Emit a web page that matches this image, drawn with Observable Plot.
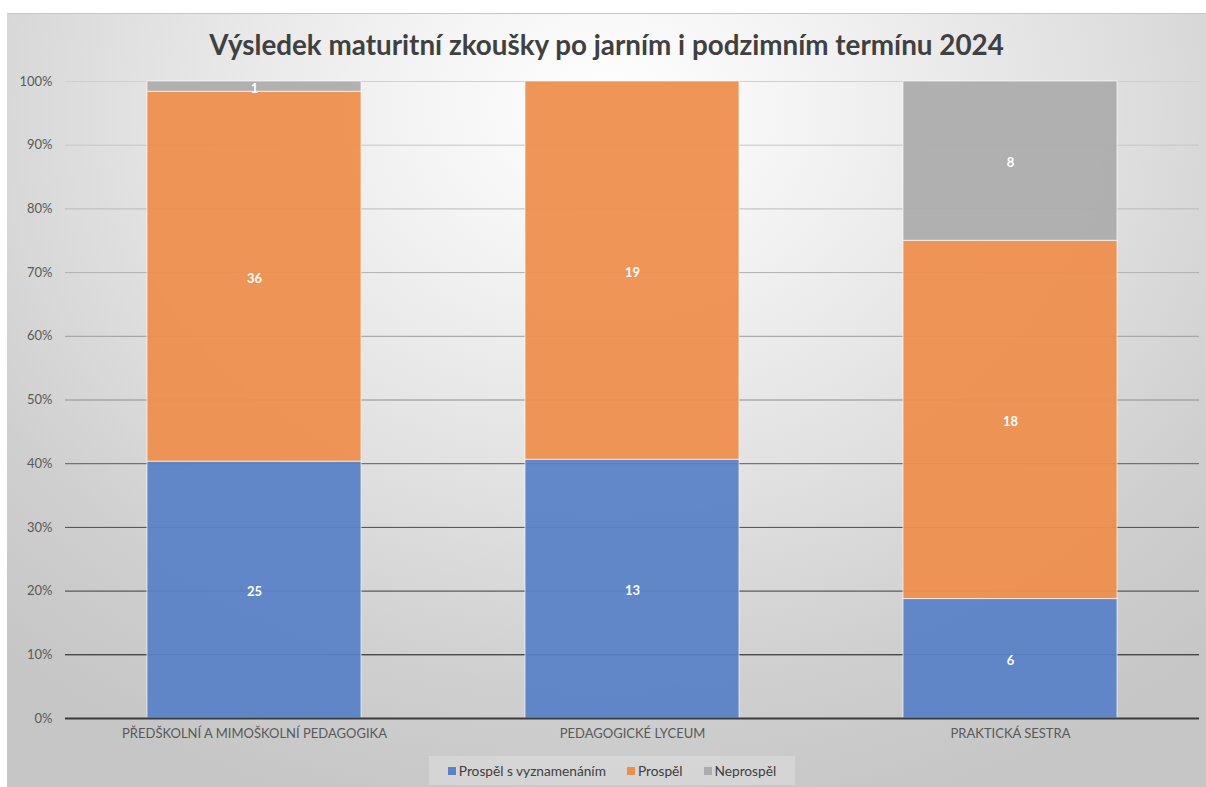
<!DOCTYPE html>
<html>
<head>
<meta charset="utf-8">
<script src="https://cdn.jsdelivr.net/npm/d3@7"></script>
<script src="https://cdn.jsdelivr.net/npm/@observablehq/plot@0.6"></script>
<style>
  html, body { margin: 0; padding: 0; background: #fff; width: 1206px; height: 787px; overflow: hidden; }
  #frame {
    position: absolute; left: 7px; top: 13px; width: 1199px; height: 774px;
    border-top: 1px solid #c6c6c6; box-sizing: border-box;
    background: radial-gradient(ellipse 75% 95% at 50% 12%, #ffffff 0%, #f2f2f2 25%, #e0e0e0 55%, #cfcfcf 80%, #c6c6c6 100%);
    font-family: Lato, "Open Sans", sans-serif;
  }
  #title {
    position: absolute; left: 0; width: 100%; top: 14px; text-align: center;
    font-size: 27.8px; font-weight: 700; color: #404040; line-height: 34px;
  }
  #chart { position: absolute; left: 0; top: 49px; }
  #legend {
    position: absolute; left: 422px; top: 742px; width: 366px; height: 29px;
    background: rgba(255,255,255,0.22);
    display: flex; align-items: center; justify-content: center; gap: 21px;
    font-size: 13.7px; color: #404040;
  }
  #legend .item { display: flex; align-items: center; gap: 3px; }
  #legend .sw { width: 8px; height: 8px; display: inline-block; }
</style>
</head>
<body>
<div id="frame">
  <div id="title"></div>
  <div id="chart"></div>
  <div id="legend"></div>
</div>
<script>
const titleText = "Výsledek maturitní zkoušky po jarním i podzimním termínu 2024";
const categories = ["PŘEDŠKOLNÍ A MIMOŠKOLNÍ PEDAGOGIKA", "PEDAGOGICKÉ LYCEUM", "PRAKTICKÁ SESTRA"];
const seriesNames = ["Prospěl s vyznamenáním", "Prospěl", "Neprospěl"];
const prospelSVyznamenanim = [25, 13, 6];
const prospel = [36, 19, 18];
const neprospel = [1, 0, 8];
const yTicks = [0, 0.1, 0.2, 0.3, 0.4, 0.5, 0.6, 0.7, 0.8, 0.9, 1];

// styles
const seriesColors = ["#5a82c8", "#ed8e4d", "#acacac"];
const gridColors = ["#3a3a3a", "#151515", "#3c3c3c", "#4c4c4c", "#5c5c5c", "#8e8e8e", "#9c9c9c", "#b0b0b0", "#bababa", "#c6c6c6", "#d0d0d0"];

const seriesValues = [prospelSVyznamenanim, prospel, neprospel];
const data = [];
seriesNames.forEach((s, si) => {
  categories.forEach((c, ci) => {
    data.push({category: c, series: s, value: seriesValues[si][ci]});
  });
});

document.getElementById("title").textContent = titleText;

const gridMarks = yTicks.slice(1).map((t, i) =>
  Plot.ruleY([t], {stroke: gridColors[i + 1], strokeWidth: 1})
);

const chart = Plot.plot({
  width: 1199,
  height: 689,
  marginTop: 18,
  marginBottom: 34,
  marginLeft: 58,
  marginRight: 7,
  style: {background: "transparent", fontFamily: "Lato, 'Open Sans', sans-serif", fontSize: "13px", color: "#595959", overflow: "visible"},
  x: {domain: categories, paddingInner: 0.434, paddingOuter: 0.217, label: null, tickSize: 0, tickPadding: 10},
  y: {domain: [0, 1], ticks: yTicks, tickFormat: d3.format(".0%"), label: null, tickSize: 0, tickPadding: 13},
  color: {domain: seriesNames, range: seriesColors},
  marks: [
    ...gridMarks,
    Plot.barY(data, Plot.stackY({
      x: "category", y: "value", fill: "series", offset: "normalize", order: seriesNames,
      fillOpacity: 0.94, stroke: "#ffffff", strokeOpacity: 0.65, strokeWidth: 1
    })),
    Plot.ruleY([0], {stroke: gridColors[0], strokeWidth: 2}),
    Plot.text(data, Plot.stackY({
      x: "category", y: "value", z: "series", offset: "normalize", order: seriesNames,
      text: d => d.value > 0 ? String(d.value) : "",
      fill: "white", fontWeight: "bold", fontSize: 13, dy: 2
    }))
  ]
});
document.getElementById("chart").appendChild(chart);

const legend = document.getElementById("legend");
seriesNames.forEach((s, i) => {
  const it = document.createElement("span");
  it.className = "item";
  const sw = document.createElement("span");
  sw.className = "sw";
  sw.style.background = seriesColors[i];
  const tx = document.createElement("span");
  tx.textContent = s;
  it.appendChild(sw); it.appendChild(tx);
  legend.appendChild(it);
});
</script>
</body>
</html>
